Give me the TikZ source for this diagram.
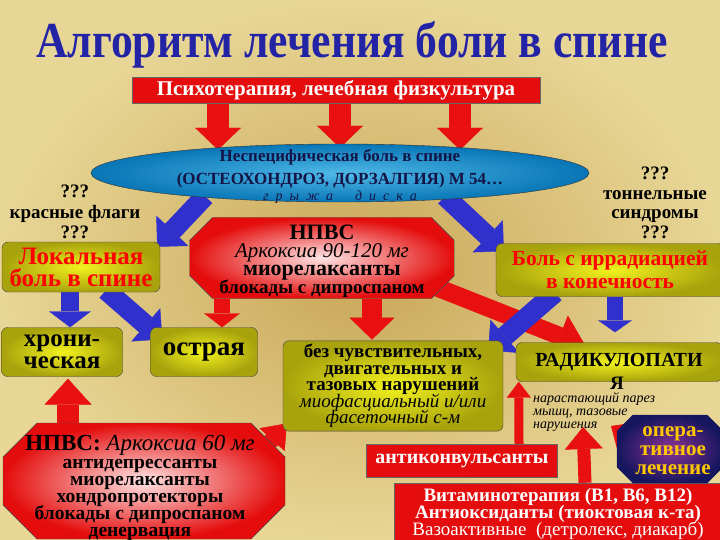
\documentclass[tikz,border=0pt]{standalone}
\usepackage{fontspec}
\setmainfont{Liberation Serif}
\usetikzlibrary{shapes.geometric,arrows.meta,backgrounds}

\definecolor{bgout}{RGB}{232,214,150}
\definecolor{bgin}{RGB}{200,166,86}
\definecolor{titleblue}{RGB}{35,35,165}
\definecolor{boxred}{RGB}{228,12,12}
\definecolor{arrred}{RGB}{232,16,16}
\definecolor{arrblue}{RGB}{48,48,205}
\definecolor{yin}{RGB}{242,242,30}
\definecolor{yout}{RGB}{168,162,12}
\definecolor{ellin}{RGB}{80,185,232}
\definecolor{ellout}{RGB}{8,118,182}
\definecolor{pinkin}{RGB}{255,228,228}
\definecolor{operin}{RGB}{140,50,150}
\definecolor{operout}{RGB}{22,22,95}
\definecolor{opertext}{RGB}{255,200,0}
\definecolor{navytext}{RGB}{20,20,70}

\newcommand\fs[2]{\fontsize{#1}{#2}\selectfont\lineskiplimit=-40pt\relax}
\newcommand\ls{\hspace{7pt}}
\newcommand\octpath[3]{\path[#1] ([xshift=#3]#2.north west) -- ([xshift=-#3]#2.north east) -- ([yshift=-#3]#2.north east) -- ([yshift=#3]#2.south east) -- ([xshift=-#3]#2.south east) -- ([xshift=#3]#2.south west) -- ([yshift=#3]#2.south west) -- ([yshift=-#3]#2.north west) -- cycle;}

\begin{document}
\begin{tikzpicture}[x=1pt, y=-1pt,
    ybox/.style={rectangle, rounded corners=6pt, draw=black!75, inner color=yin, outer color=yout, align=center},
    rbox/.style={rectangle, draw=black!60, fill=boxred, text=white, align=center},
    octbase/.style={rectangle, inner sep=0pt, outer sep=0pt},
    roct/.style={draw=black!70, inner color=pinkin, outer color=boxred},
    rarr/.style={draw=arrred, line width=22pt, -{Triangle[width=46pt, length=22pt, line width=0.4pt]}},
    barr/.style={draw=arrblue, line width=20pt, -{Triangle[width=44pt, length=22pt, line width=0.4pt]}},
    headsize/.style n args={3}{line width=#1, -{Triangle[width=#2, length=#3, line width=0.4pt]}}]
  \path[use as bounding box, clip] (0,0) rectangle (720,540);

  \node[font=\fs{45}{50}\bfseries, text=titleblue] (title) at (352,45) {\scalebox{0.97}[1.12]{Алгоритм лечения боли в спине}};
  \node[rbox, minimum width=408pt, minimum height=26pt, font=\fs{21}{24}\bfseries] (psy) at (336,90) {Психотерапия, лечебная физкультура};

  \node[ellipse, draw=black!80, inner color=ellin, outer color=ellout, minimum width=498pt, minimum height=58pt] (nspec) at (340,173) {};
  \node[align=center, text=navytext, font=\fs{17}{20}\bfseries] (nspectext) at (340,176) {Неспецифическая боль в спине\\[3pt](ОСТЕОХОНДРОЗ,\ ДОРЗАЛГИЯ) М 54\ldots\\[-4pt]{\fs{14}{15}\mdseries\itshape г\ls р\ls ы\ls ж\ls а\hspace{22pt}д\ls и\ls с\ls к\ls а}};

  \node[align=center, font=\fs{19}{20.5}\bfseries] (redflags) at (75,212) {???\\красные флаги\\???};
  \node[align=center, font=\fs{19}{19.5}\bfseries] (tunnel) at (655,203) {???\\тоннельные\\синдромы\\???};

  \node[ybox, minimum width=158pt, minimum height=50pt, text=red, font=\fs{25}{22}\bfseries] (local) at (81,267) {Локальная\\боль в спине};
  \node[octbase, minimum width=265pt, minimum height=81pt] (npvs) at (322,258) {};
  \octpath{roct}{npvs}{23pt}
  \node[align=center, font=\fs{19}{18}\bfseries] (npvstext) at (322,261) {{\fs{22}{18}НПВС}\\{\fs{21}{18}\mdseries\itshape Аркоксиа 90-120 мг}\\{\fs{22}{18}миорелаксанты}\\блокады с дипроспаном};
  \node[ybox, minimum width=228pt, minimum height=53pt, text=red, font=\fs{21.5}{23}\bfseries] (irr) at (610,270) {Боль с иррадиацией\\в конечность};

  \node[ybox, minimum width=121pt, minimum height=49pt, font=\fs{25}{22}\bfseries] (chron) at (62,352) {хрони-\\ческая};
  \node[ybox, minimum width=107pt, minimum height=49pt, font=\fs{27}{20}\bfseries] (ostr) at (204,352) {острая};
  \node[ybox, minimum width=220pt, minimum height=90pt, font=\fs{19}{16.5}\bfseries] (noneuro) at (393,386) {без чувствительных,\\двигательных и\\тазовых нарушений\\{\mdseries\itshape миофасциальный и/или}\\{\mdseries\itshape фасеточный с-м}};
  \node[ybox, minimum width=206pt, minimum height=39pt, font=\fs{20}{22}\bfseries] (radic) at (619,362) {РАДИКУЛОПАТИ};
  \node[font=\fs{19}{22}\bfseries] (radicend) at (617,383) {Я};
  \node[anchor=west, inner sep=0pt, align=left, font=\fs{14}{13}\itshape] (radicnote) at (533,412) {нарастающий парез\\мышц, тазовые\\нарушения};

  \node[rbox, minimum width=191pt, minimum height=33pt, font=\fs{20}{22}\bfseries] (anticonv) at (462,461) {антиконвульсанты};
  \node[rbox, minimum width=327pt, minimum height=62pt, font=\fs{19}{17}\bfseries] (vitam) at (558,514) {Витаминотерапия (B1, B6, B12)\\Антиоксиданты (тиоктовая к-та)\\{\mdseries Вазоактивные\ \ (детролекс, диакарб)}};
  \node[octbase, minimum width=106pt, minimum height=68pt] (oper) at (670,449) {};
  \octpath{draw=operout, inner color=operin, outer color=operout}{oper}{16pt}
  \node[align=center, text=opertext, font=\fs{21}{19}\bfseries] (opertext) at (673,451) {опера-\\тивное\\лечение};

  \node[octbase, minimum width=282pt, minimum height=116pt] (npvslong) at (144,481) {};
  \octpath{roct}{npvslong}{34pt}
  \node[align=center, font=\fs{19.5}{17}\bfseries] (npvslongtext) at (140,488) {{\fs{23}{17}НПВС: \mdseries\itshape Аркоксиа 60 мг}\\[1pt]антидепрессанты\\миорелаксанты\\хондропротекторы\\блокады с дипроспаном\\денервация};

  \begin{pgfonlayer}{background}
    \shade[inner color=bgin, outer color=bgout] (0,0) rectangle (720,540);
    \draw[rarr] ([xshift=-118pt]psy.south) -- ([xshift=-122pt,yshift=-6pt]nspec.north);
    \draw[rarr] ([xshift=4pt]psy.south) -- ([yshift=-4pt]nspec.north);
    \draw[rarr] ([xshift=124pt]psy.south) -- ([xshift=120pt,yshift=-6pt]nspec.north);
    \draw[barr] ([xshift=-135pt,yshift=6pt]nspec.south) -- ([xshift=-3pt,yshift=-5pt]local.north east);
    \draw[barr] ([xshift=105pt,yshift=6pt]nspec.south) -- ([xshift=8pt,yshift=-8pt]irr.north west);
    \draw[barr, headsize={18pt}{42pt}{16pt}] ([xshift=-11pt]local.south) -- ([xshift=8pt]chron.north);
    \draw[barr] ([xshift=25pt,yshift=2pt]local.south) -- ([xshift=12pt,yshift=-12pt]ostr.north west);
    \draw[rarr, headsize={16pt}{36pt}{14pt}] ([xshift=-100pt]npvs.south) -- ([xshift=18pt]ostr.north);
    \draw[rarr, headsize={20pt}{45pt}{22pt}] ([xshift=50pt]npvs.south) -- ([xshift=-21pt,yshift=1pt]noneuro.north);
    \draw[rarr, headsize={18pt}{44pt}{28pt}] ([xshift=-20pt,yshift=12pt]npvs.south east) -- ([xshift=70pt,yshift=-4pt]radic.north west);
    \draw[barr] ([xshift=-55pt,yshift=4pt]irr.south) -- ([xshift=-15pt,yshift=-10pt]noneuro.north east);
    \draw[barr, headsize={16pt}{34pt}{12pt}] ([xshift=5pt]irr.south) -- ([xshift=-4pt,yshift=10pt]radic.north);
    \draw[rarr, headsize={22pt}{47pt}{26pt}] ([xshift=-76pt]npvslong.north) -- ([xshift=6pt,yshift=-2pt]chron.south);
    \draw[rarr, headsize={16pt}{34pt}{22pt}] ([xshift=-25pt,yshift=-30pt]npvslong.north east) -- ([xshift=4pt,yshift=8pt]noneuro.south west);
    \draw[rarr, headsize={9pt}{24pt}{16pt}] ([xshift=57pt]anticonv.north) -- ([xshift=3pt]radic.south west);
    \draw[rarr, headsize={13pt}{38pt}{22pt}] ([xshift=27pt]vitam.north) -- ([xshift=50pt,yshift=-15pt]radicnote.west);
    \draw[rarr, headsize={12pt}{30pt}{17pt}] ([xshift=15pt,yshift=-25pt]oper.north west) -- ([xshift=78pt,yshift=-14pt]radicnote.west);
  \end{pgfonlayer}
\end{tikzpicture}
\end{document}
